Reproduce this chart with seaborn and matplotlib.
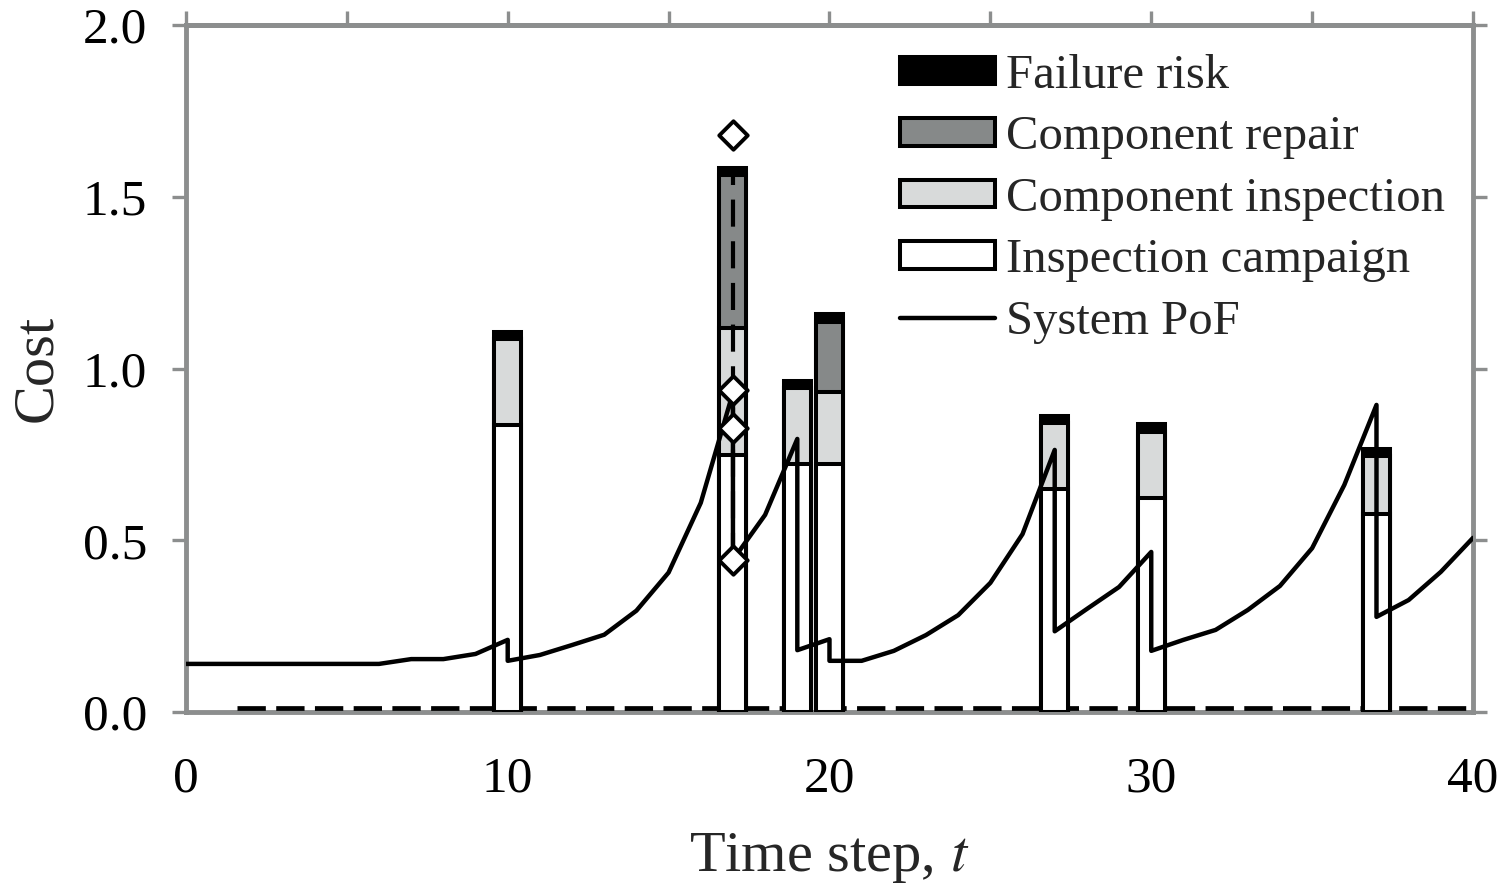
import matplotlib
matplotlib.use("Agg")
import matplotlib.pyplot as plt
import matplotlib.patches as mpatches
import matplotlib.lines as mlines
import matplotlib.transforms as mtransforms
import numpy as np
import seaborn as sns

# cost bars (stacked)
t_bars = [10, 17, 19, 20, 27, 30, 37]
campaign = [0.835, 0.748, 0.722, 0.722, 0.649, 0.623, 0.576]
comp_insp = [0.25, 0.37, 0.221, 0.21, 0.192, 0.192, 0.169]
comp_repair = [0.0, 0.445, 0.0, 0.203, 0.0, 0.0, 0.0]
fail_risk = [0.02, 0.021, 0.021, 0.024, 0.021, 0.023, 0.021]

# system PoF (repeated t = jump after maintenance)
pof_t = [0, 1, 2, 3, 4, 5, 6, 7, 8, 9, 10, 10, 11, 12, 13, 14, 15, 16, 17, 17,
         18, 19, 19, 20, 20, 21, 22, 23, 24, 25, 26, 27, 27, 28, 29, 30, 30,
         31, 32, 33, 34, 35, 36, 37, 37, 38, 39, 40]
pof_y = [0.14, 0.14, 0.14, 0.14, 0.14, 0.14, 0.14, 0.154, 0.154, 0.169, 0.21,
         0.149, 0.166, 0.195, 0.225, 0.295, 0.406, 0.609, 0.93, 0.443,
         0.574, 0.795, 0.18, 0.212, 0.149, 0.149, 0.178, 0.224, 0.282, 0.376,
         0.518, 0.763, 0.235, 0.30, 0.364, 0.466, 0.178, 0.21, 0.239, 0.297,
         0.367, 0.477, 0.661, 0.894, 0.277, 0.326, 0.408, 0.507]

# component markers at t=17
diam_t = [17, 17, 17, 17]
diam_y = [0.443, 0.827, 0.937, 1.68]

# vertical dashed range at t=17
vdash_t = [17, 17]
vdash_y = [0.443, 1.58]

# zero dashed series
zero_t = [1.6, 40]
zero_y = [0, 0]

labels = ["Failure risk", "Component repair", "Component inspection",
          "Inspection campaign", "System PoF"]
c_fail = "black"
c_rep = "#868989"
c_insp = "#d8dada"
c_camp = "white"
gray = "#8c8e8e"

sns.set_style("white")
plt.rcParams["font.family"] = ["Liberation Serif", "DejaVu Serif"]
plt.rcParams["mathtext.fontset"] = "stix"

fig = plt.figure(figsize=(15.02, 8.88), dpi=100)
ax = fig.add_axes([0.1238, 0.1982, 0.8569, 0.7736])

# zero line (drawn resting on top of the axis line)
sns.lineplot(x=zero_t, y=zero_y, ax=ax, color="black", lw=3.4,
             linestyle=(0, (6, 2.2)), estimator=None, sort=False,
             zorder=2.7, clip_on=False)
zline = ax.lines[-1]
zline.set_transform(ax.transData +
                    mtransforms.ScaledTranslation(0, 3 / 72, fig.dpi_scale_trans))

# stacked bars: draw cumulative totals from top down
cum1 = np.array(campaign)
cum2 = cum1 + np.array(comp_insp)
cum3 = cum2 + np.array(comp_repair)
cum4 = cum3 + np.array(fail_risk)
for vals, col in [(cum4, c_fail), (cum3, c_rep), (cum2, c_insp), (cum1, c_camp)]:
    sns.barplot(x=t_bars, y=vals, ax=ax, native_scale=True, color=col,
                saturation=1, edgecolor="black", linewidth=2.9, width=0.84,
                errorbar=None, zorder=2.8)

# system PoF line
sns.lineplot(x=pof_t, y=pof_y, ax=ax, color="black", lw=3.2,
             estimator=None, sort=False, zorder=3)

# vertical dashed line + diamonds at t=17
sns.lineplot(x=vdash_t, y=vdash_y, ax=ax, color="black",
             lw=3.0, linestyle=(0, (6.5, 3.5)), estimator=None, sort=False,
             zorder=4)
sns.scatterplot(x=diam_t, y=diam_y, ax=ax, marker="D", s=210,
                facecolor="white", edgecolor="black", linewidth=2.8,
                zorder=5, clip_on=False)

ax.set_xlim(0, 40)
ax.set_ylim(0, 2.0)
ax.set_xticks([0, 10, 20, 30, 40])
ax.set_yticks([0, 0.5, 1.0, 1.5, 2.0])
ax.set_yticklabels(["0.0", "0.5", "1.0", "1.5", "2.0"])
ax.tick_params(axis="both", direction="out", length=10, width=2.4,
               color=gray, labelsize=37, labelcolor="black")
ax.tick_params(axis="x", pad=22)
ax.tick_params(axis="y", pad=18, right=True, labelright=False, left=True)
for sp in ax.spines.values():
    sp.set_color(gray)
    sp.set_linewidth(3.5)
    sp.set_visible(True)

top = ax.secondary_xaxis("top")
top.set_xticks(np.arange(0, 41, 5))
top.tick_params(direction="out", length=10, width=2.4, color=gray,
                labeltop=False)
top.spines["top"].set_color(gray)
top.spines["top"].set_linewidth(3.5)

ax.set_xlabel("Time step, $t$", fontsize=42, labelpad=20)
ax.set_ylabel("Cost", fontsize=42, labelpad=14)

handles = [
    mpatches.Patch(facecolor=c_fail, edgecolor="black", linewidth=2.9),
    mpatches.Patch(facecolor=c_rep, edgecolor="black", linewidth=2.9),
    mpatches.Patch(facecolor=c_insp, edgecolor="black", linewidth=2.9),
    mpatches.Patch(facecolor=c_camp, edgecolor="black", linewidth=2.9),
    mlines.Line2D([], [], color="black", lw=3.2),
]
ax.legend(handles, labels, loc="upper left", bbox_to_anchor=(0.555, 0.958),
          frameon=False, fontsize=35, handlelength=1.95, handleheight=0.5,
          handletextpad=0.22, labelspacing=0.36, borderpad=0, borderaxespad=0)

fig.savefig("out.png", dpi=100)
